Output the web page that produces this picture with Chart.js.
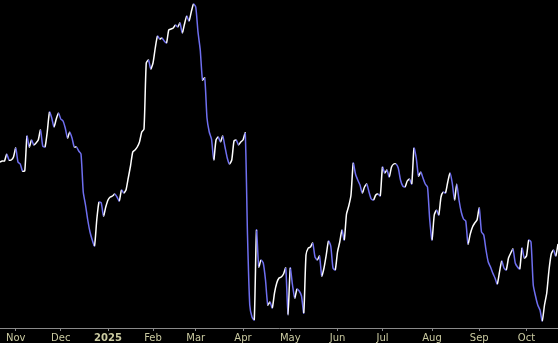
<!DOCTYPE html>
<html>
<head>
<meta charset="utf-8">
<script src="https://cdn.jsdelivr.net/npm/chart.js@4.4.1/dist/chart.umd.min.js"></script>
<style>
  html, body { margin: 0; padding: 0; background: #000; }
  #wrap { width: 558px; height: 343px; background: #000; }
</style>
</head>
<body>
<div id="wrap"><canvas id="c" width="558" height="343"></canvas></div>
<script>
// Trading-day index of the first value (0 = first trading day of Nov 2024)
const firstDay = -7;

// Closing values, one per trading day
const prices = [
  16.8, 16.9, 16.9, 17.6, 17.0, 17.0, 17.3,
  18.2, 16.8, 16.6, 15.9, 15.9, 19.4, 18.3, 19.0, 18.5, 18.7,
  19.0, 20.0, 18.4, 18.3, 19.8, 21.8, 21.2, 20.3, 21.1, 21.7,
  21.1, 20.9, 20.2, 19.2, 19.8, 19.2, 18.3, 18.3, 17.9, 17.6,
  13.8, 12.5, 11.0, 9.8, 9.0, 8.4, 11.0, 12.8, 12.7, 11.4,
  12.3, 13.0, 13.3, 13.4, 13.6, 13.3, 12.9, 14.0, 13.7, 14.0,
  15.2, 16.4, 17.8, 18.0, 18.3, 18.8, 19.8, 20.1, 26.7, 27.0,
  26.1, 26.7, 28.2, 29.4, 29.1, 29.2, 28.9, 28.7, 30.0, 30.1,
  30.2, 30.5, 30.3, 30.7, 29.7, 30.6, 31.4, 30.9, 31.8, 32.6,
  32.3, 29.8, 28.0, 25.0, 25.2, 21.2, 19.8, 19.1, 17.0, 19.0,
  19.3, 18.8, 19.4, 18.3, 17.2, 16.6, 17.0, 18.9, 19.0, 18.5,
  18.8, 19.0, 19.7, 9.5, 2.5, 1.3, 1.0, 10.0, 6.3, 7.0,
  6.7, 5.0, 2.5, 2.8, 2.2, 3.7, 4.7, 5.2, 5.3, 5.6,
  6.2, 1.5, 6.2, 4.5, 3.2, 4.1, 3.9, 3.4, 1.7, 7.5,
  8.2, 8.3, 8.7, 7.3, 7.0, 7.4, 5.4, 6.2, 7.5, 8.9,
  8.4, 6.2, 6.0, 7.8, 8.8, 10.0, 9.0, 11.6, 12.4, 13.5,
  16.7, 15.6, 15.0, 14.5, 13.7, 14.3, 14.6, 13.8, 13.1, 13.0,
  13.5, 13.6, 13.4, 16.3, 15.7, 16.0, 15.3, 16.3, 16.6, 16.6,
  16.2, 15.0, 14.4, 14.3, 14.9, 15.1, 14.6, 18.2, 17.2, 15.4,
  15.8, 15.2, 14.6, 14.3, 11.0, 9.0, 11.5, 12.0, 11.5, 13.3,
  13.8, 13.7, 14.8, 15.7, 14.7, 13.0, 14.6, 13.0, 11.8, 11.1,
  10.9, 8.6, 9.6, 10.3, 10.7, 11.0, 12.2, 9.8, 9.5, 8.0,
  6.8, 6.3, 5.7, 5.2, 4.6, 5.8, 6.9, 6.2, 6.0, 7.2,
  7.7, 8.1, 6.7, 6.3, 6.1, 8.2, 7.2, 7.4, 9.0, 8.8,
  4.5, 3.4, 2.5, 2.0, 0.9, 2.5, 3.7, 6.0, 7.6, 8.0,
  7.4, 8.6
];

// Month tick labels and their trading-day index
const tickLabels = ['Nov', 'Dec', '2025', 'Feb', 'Mar', 'Apr', 'May', 'Jun', 'Jul', 'Aug', 'Sep', 'Oct'];
const tickDays   = [0, 20, 41, 61, 80, 101, 122, 143, 163, 185, 206, 227];

const UP = '#ffffff';
const DOWN = '#6f6ff0';
const AXIS = '#8a8a8a';
const LABEL = '#c9c9a0';

const points = prices.map((p, i) => ({ x: firstDay + i, y: p }));
const lastDay = firstDay + prices.length - 1;

new Chart(document.getElementById('c'), {
  type: 'line',
  data: {
    datasets: [{
      data: points,
      borderWidth: 1.5,
      borderColor: UP,
      pointRadius: 0,
      tension: 0.2,
      segment: {
        borderColor: ctx => ctx.p1.parsed.y < ctx.p0.parsed.y ? DOWN : UP
      }
    }]
  },
  options: {
    responsive: false,
    animation: false,
    devicePixelRatio: 1,
    layout: { padding: 0 },
    plugins: { legend: { display: false }, tooltip: { enabled: false } },
    scales: {
      x: {
        type: 'linear',
        min: firstDay,
        max: lastDay,
        afterBuildTicks: s => { s.ticks = tickDays.map(v => ({ value: v })); },
        afterFit: s => { s.height = 15; },
        grid: { drawOnChartArea: false, drawTicks: true, tickLength: 3, color: AXIS },
        border: { display: true, color: AXIS, width: 1 },
        ticks: {
          autoSkip: false,
          maxRotation: 0,
          padding: 1,
          color: LABEL,
          font: ctx => ({ family: 'DejaVu Sans', size: 10, weight: ctx.index === 2 ? 'bold' : 'normal' }),
          callback: v => { const i = tickDays.indexOf(v); return i >= 0 ? tickLabels[i] : ''; }
        }
      },
      y: {
        display: false,
        min: 0.2,
        max: 33.0
      }
    }
  }
});
</script>
</body>
</html>
